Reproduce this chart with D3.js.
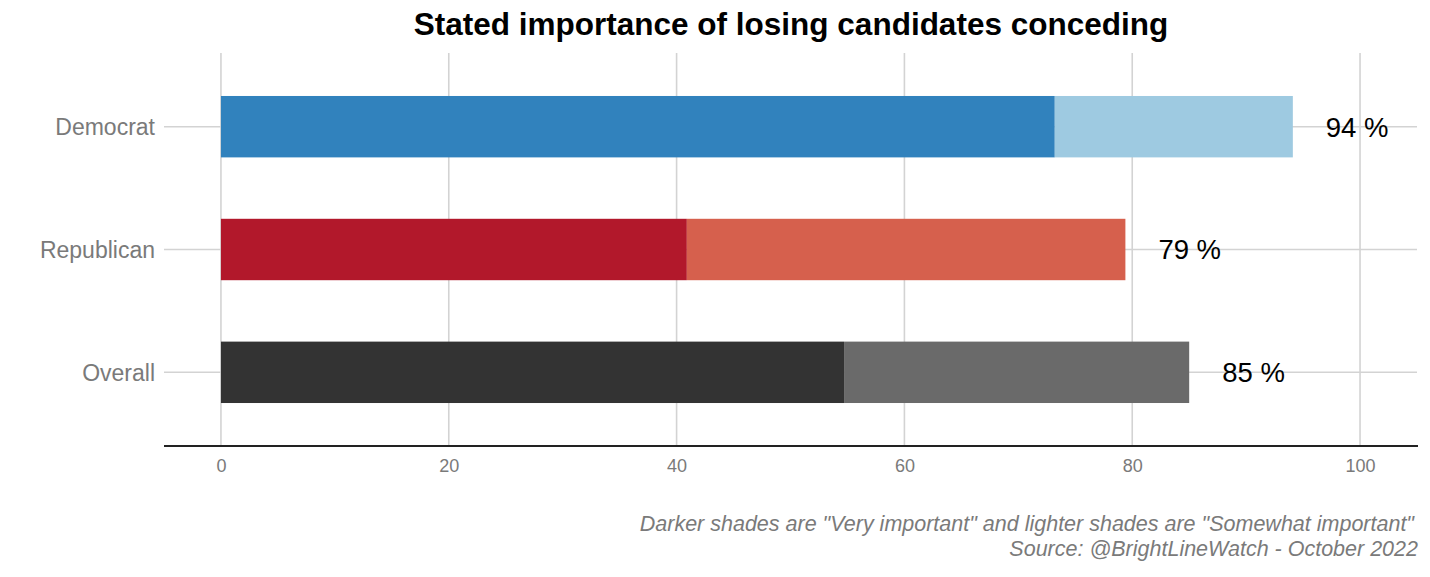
<!DOCTYPE html>
<html><head><meta charset="utf-8">
<script src="https://cdn.jsdelivr.net/npm/d3@7"></script>
<style>body{margin:0;background:#fff}</style>
</head><body>
<svg id="chart" width="1430" height="577"></svg>
<script>
const categories = ["Democrat", "Republican", "Overall"];
const veryImportant = [73.2, 40.9, 54.7];
const somewhatImportant = [20.9, 38.5, 30.3];
const totalLabels = ["94 %", "79 %", "85 %"];
const xTicks = [0, 20, 40, 60, 80, 100];
const darkColors = ["#3182bd", "#b2182b", "#333333"];
const lightColors = ["#9ecae1", "#d6604d", "#6a6a6a"];

const svg = d3.select("#chart");
const pLeft = 164, pRight = 1417, pTop = 53, pBottom = 446;
const x = d3.scaleLinear().domain([-5, 105]).range([pLeft, pRight]);
const y = d3.scaleBand().domain(categories).range([pTop, pBottom]).paddingInner(0.5).paddingOuter(0.35);
const font = "Liberation Sans, Arial, sans-serif";

// grid
svg.append("g").selectAll("line").data(xTicks).join("line")
  .attr("x1", d => x(d)).attr("x2", d => x(d)).attr("y1", pTop).attr("y2", pBottom)
  .attr("stroke", "#d3d3d3").attr("stroke-width", 1.6);
svg.append("g").selectAll("line").data(categories).join("line")
  .attr("x1", pLeft).attr("x2", pRight)
  .attr("y1", d => y(d) + y.bandwidth() / 2).attr("y2", d => y(d) + y.bandwidth() / 2)
  .attr("stroke", "#d3d3d3").attr("stroke-width", 1.6);

// bars
const g = svg.append("g");
categories.forEach((c, i) => {
  g.append("rect").attr("x", x(0)).attr("y", y(c))
    .attr("width", x(veryImportant[i]) - x(0)).attr("height", y.bandwidth())
    .attr("fill", darkColors[i]);
  g.append("rect").attr("x", x(veryImportant[i])).attr("y", y(c))
    .attr("width", x(veryImportant[i] + somewhatImportant[i]) - x(veryImportant[i])).attr("height", y.bandwidth())
    .attr("fill", lightColors[i]);
  g.append("text").attr("x", x(veryImportant[i] + somewhatImportant[i]) + 33)
    .attr("y", y(c) + y.bandwidth() / 2).attr("dy", "0.36em")
    .attr("font-family", font).attr("font-size", 27.5)
    .attr("fill", "#000").text(totalLabels[i]);
});

// y labels
svg.append("g").selectAll("text").data(categories).join("text")
  .attr("x", 155).attr("y", d => y(d) + y.bandwidth() / 2).attr("dy", "0.36em")
  .attr("text-anchor", "end").attr("font-family", font)
  .attr("font-size", 23).attr("fill", "#7a7a7a").text(d => d);

// x axis
const xAxis = svg.append("g").attr("transform", `translate(0,${pBottom})`)
  .call(d3.axisBottom(x).tickValues(xTicks).tickSize(0).tickPadding(13));
xAxis.select(".domain").remove();
xAxis.selectAll("text").attr("font-family", font)
  .attr("font-size", 18).attr("fill", "#7a7a7a");
svg.append("line").attr("x1", pLeft).attr("x2", pRight + 1).attr("y1", pBottom).attr("y2", pBottom)
  .attr("stroke", "#222").attr("stroke-width", 2);

// title
svg.append("text").attr("x", 791).attr("y", 35).attr("text-anchor", "middle")
  .attr("font-family", font).attr("font-weight", "bold")
  .attr("font-size", 31.5).attr("fill", "#000").text("Stated importance of losing candidates conceding");

// caption
const cap = svg.append("g").attr("font-family", font)
  .attr("font-style", "italic").attr("font-size", 21.5).attr("fill", "#7a7a7a").attr("text-anchor", "end");
cap.append("text").attr("x", 1414).attr("y", 531).text('Darker shades are "Very important" and lighter shades are "Somewhat important"');
cap.append("text").attr("x", 1418).attr("y", 556).text("Source: @BrightLineWatch - October 2022");
</script>
</body></html>
